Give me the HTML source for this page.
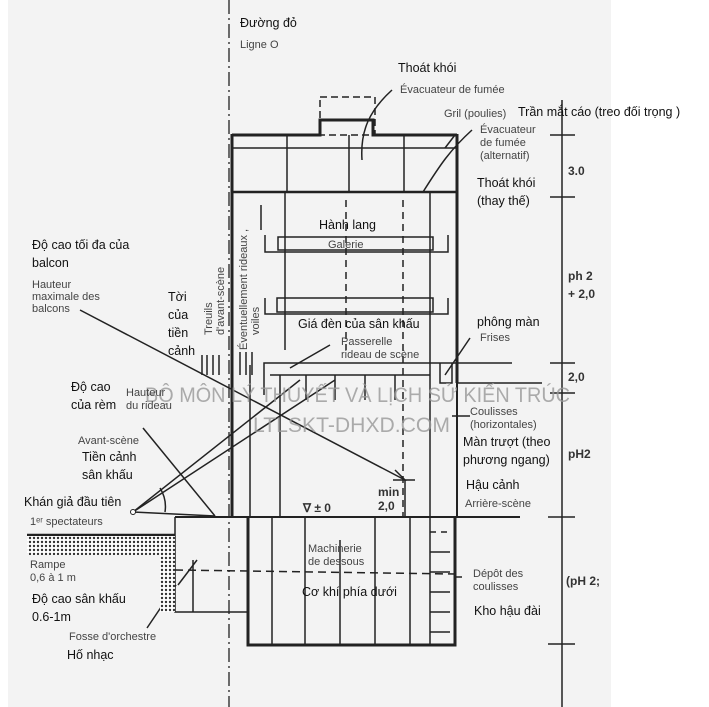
<!DOCTYPE html>
<html><head><meta charset="utf-8"><style>
html,body{margin:0;padding:0;background:#fff}
svg{display:block}
.v{font-family:"Liberation Sans",sans-serif;font-size:12.5px;fill:#111}
.f{font-family:"Liberation Sans",sans-serif;font-size:11px;fill:#444}
.d{font-family:"Liberation Sans",sans-serif;font-size:12px;fill:#333;font-weight:bold}
</style></head><body>
<svg width="709" height="707" viewBox="0 0 709 707" xmlns="http://www.w3.org/2000/svg">
<rect x="8" y="0" width="603" height="707" fill="#f3f3f3"/>
<g stroke="#222" fill="none" stroke-width="1.5">
<line x1="229" y1="0" x2="229" y2="707" stroke-dasharray="14,4,2,4" stroke-width="1.3"/>
<polyline points="232,135 320,135 320,120 373,120 373,135 457,135" stroke-width="3"/>
<rect x="320" y="97" width="55" height="38" stroke-dasharray="7,4"/>
<line x1="232" y1="148" x2="457" y2="148"/>
<line x1="232" y1="192" x2="457" y2="192" stroke-width="2.5"/>
<line x1="287" y1="135" x2="287" y2="192"/><line x1="349" y1="135" x2="349" y2="192"/><line x1="404" y1="135" x2="404" y2="192"/>
<line x1="232" y1="134" x2="232" y2="517" stroke-width="3"/>
<line x1="457" y1="134" x2="457" y2="383" stroke-width="3"/>
<line x1="285" y1="192" x2="285" y2="350"/>
<line x1="430" y1="192" x2="430" y2="517"/>
<line x1="261" y1="205" x2="261" y2="230"/>
<line x1="346" y1="200" x2="346" y2="350" stroke-dasharray="7,5"/>
<line x1="403" y1="200" x2="403" y2="517" stroke-dasharray="7,5"/>
<rect x="278" y="237" width="155" height="13"/>
<polyline points="265,235 265,252 448,252 448,235"/>
<rect x="277" y="298" width="156" height="14"/>
<polyline points="265,298 265,314 448,314 448,298"/>
<polyline points="264,395 264,363 512,363"/>
<polyline points="440,363 440,383 452,383 452,363"/>
<line x1="457" y1="363" x2="457" y2="517" stroke-width="2"/>
<line x1="270" y1="375" x2="430" y2="375"/>
<line x1="250" y1="365" x2="250" y2="517"/><line x1="280" y1="375" x2="280" y2="517"/>
<line x1="306" y1="375" x2="306" y2="400"/><line x1="335" y1="375" x2="335" y2="400"/><line x1="365" y1="375" x2="365" y2="400"/><line x1="395" y1="375" x2="395" y2="400"/>
<line x1="457" y1="383" x2="542" y2="383"/>
<line x1="175" y1="517" x2="520" y2="517" stroke-width="2"/>
<polyline points="248,517 248,645 455,645 455,517" stroke-width="3"/>
<line x1="272" y1="517" x2="272" y2="645"/><line x1="305" y1="517" x2="305" y2="645"/><line x1="340" y1="540" x2="340" y2="645"/><line x1="375" y1="517" x2="375" y2="645"/><line x1="410" y1="517" x2="410" y2="645"/><line x1="430" y1="517" x2="430" y2="645"/>
<line x1="175" y1="570" x2="455" y2="574" stroke-dasharray="8,5"/>
<line x1="430" y1="532" x2="450" y2="532" stroke-dasharray="6,5"/>
<line x1="430" y1="552" x2="450" y2="552"/><line x1="430" y1="572" x2="450" y2="572"/><line x1="430" y1="592" x2="450" y2="592"/><line x1="430" y1="612" x2="450" y2="612"/><line x1="430" y1="632" x2="450" y2="632"/>
<polyline points="175,517 175,612 248,612"/>
<line x1="193" y1="560" x2="193" y2="612"/>
<line x1="178" y1="585" x2="197" y2="560"/>
<line x1="147" y1="628" x2="176" y2="585"/>
<line x1="27" y1="535" x2="175" y2="535" stroke-width="2.5"/>
<line x1="133" y1="512" x2="300" y2="380"/>
<line x1="133" y1="512" x2="335" y2="380"/>
<line x1="133" y1="512" x2="215" y2="516"/>
<line x1="143" y1="428" x2="215" y2="516"/>
<path d="M160,488 A35,35 0 0 1 165,512"/>
<line x1="80" y1="310" x2="405" y2="480"/>
<polyline points="395,470 405,480 393,480"/>
<line x1="405" y1="480" x2="415" y2="480"/>
<line x1="405" y1="480" x2="405" y2="517"/>
<line x1="202" y1="355" x2="202" y2="375"/><line x1="207" y1="355" x2="207" y2="375"/><line x1="213" y1="355" x2="213" y2="375"/><line x1="219" y1="355" x2="219" y2="375"/>
<line x1="240" y1="352" x2="240" y2="375"/><line x1="246" y1="352" x2="246" y2="375"/><line x1="252" y1="352" x2="252" y2="375"/>
<path d="M392,90 C370,110 360,130 362,160"/>
<path d="M472,130 C450,150 440,165 423,192"/>
<line x1="455" y1="135" x2="445" y2="148"/>
<line x1="290" y1="368" x2="330" y2="345"/>
<line x1="445" y1="375" x2="470" y2="338"/>
<line x1="452" y1="416" x2="470" y2="416"/>
<line x1="562" y1="100" x2="562" y2="707"/>
<line x1="550" y1="135" x2="575" y2="135"/><line x1="550" y1="197" x2="575" y2="197"/><line x1="550" y1="363" x2="575" y2="363"/><line x1="550" y1="393" x2="575" y2="393"/><line x1="548" y1="517" x2="575" y2="517"/><line x1="548" y1="644" x2="575" y2="644"/>
<line x1="457" y1="517" x2="520" y2="517"/>
<line x1="455" y1="577" x2="462" y2="577"/>
</g>
<circle cx="133" cy="512" r="2.5" fill="#fff" stroke="#222"/>
<defs><pattern id="dots" width="4" height="4" patternUnits="userSpaceOnUse"><rect width="4" height="4" fill="#fff"/><circle cx="2" cy="2" r="1.2" fill="#333"/></pattern></defs>
<rect x="27" y="536" width="148" height="19" fill="url(#dots)"/>
<rect x="160" y="536" width="15" height="76" fill="url(#dots)"/>
<text x="145" y="402" font-family="Liberation Sans,sans-serif" font-size="21" fill="#999" opacity="0.8" textLength="425" lengthAdjust="spacingAndGlyphs">BỘ MÔN LÝ THUYẾT VÀ LỊCH SỬ KIẾN TRÚC</text>
<text x="253" y="432" font-family="Liberation Sans,sans-serif" font-size="21" fill="#999" opacity="0.8" textLength="197" lengthAdjust="spacingAndGlyphs">LTLSKT-DHXD.COM</text>
<text class="v" x="240" y="27">Đường đỏ</text>
<text class="f" x="240" y="48">Ligne O</text>
<text class="v" x="398" y="72">Thoát khói</text>
<text class="f" x="400" y="93">Évacuateur de fumée</text>
<text class="v" x="518" y="116">Trần mắt cáo (treo đối trọng )</text>
<text class="f" x="444" y="117">Gril (poulies)</text>
<text class="f" x="480" y="133">Évacuateur</text>
<text class="f" x="480" y="146">de fumée</text>
<text class="f" x="480" y="159">(alternatif)</text>
<text class="v" x="477" y="187">Thoát khói</text>
<text class="v" x="477" y="205">(thay thế)</text>
<text class="d" x="568" y="175">3.0</text>
<text class="v" x="319" y="229">Hành lang</text>
<text class="f" x="328" y="248">Galerie</text>
<text class="v" x="32" y="249">Độ cao tối đa của</text>
<text class="v" x="32" y="267">balcon</text>
<text class="f" x="32" y="288">Hauteur</text>
<text class="f" x="32" y="300">maximale des</text>
<text class="f" x="32" y="312">balcons</text>
<text class="v" x="168" y="301">Tời</text>
<text class="v" x="168" y="319">của</text>
<text class="v" x="168" y="337">tiền</text>
<text class="v" x="168" y="355">cảnh</text>
<text class="f" transform="translate(212,335) rotate(-90)">Treuils</text>
<text class="f" transform="translate(224,335) rotate(-90)">d'avant-scène</text>
<text class="f" transform="translate(247,350) rotate(-90)">Éventuellement rideaux ,</text>
<text class="f" transform="translate(259,335) rotate(-90)">voiles</text>
<text class="d" x="568" y="280">ph 2</text>
<text class="d" x="568" y="298">+ 2,0</text>
<text class="v" x="298" y="328">Giá đèn của sân khấu</text>
<text class="f" x="341" y="345">Passerelle</text>
<text class="f" x="341" y="358">rideau de scène</text>
<text class="v" x="477" y="326">phông màn</text>
<text class="f" x="480" y="341">Frises</text>
<text class="d" x="568" y="381">2,0</text>
<text class="v" x="71" y="391">Độ cao</text>
<text class="v" x="71" y="409">của rèm</text>
<text class="f" x="126" y="396">Hauteur</text>
<text class="f" x="126" y="409">du rideau</text>
<text class="f" x="470" y="415">Coulisses</text>
<text class="f" x="470" y="428">(horizontales)</text>
<text class="v" x="463" y="446">Màn trượt (theo</text>
<text class="v" x="463" y="464">phương ngang)</text>
<text class="d" x="568" y="458">pH2</text>
<text class="f" x="78" y="444">Avant-scène</text>
<text class="v" x="82" y="461">Tiền cảnh</text>
<text class="v" x="82" y="479">sân khấu</text>
<text class="v" x="24" y="506">Khán giả đầu tiên</text>
<text class="v" x="466" y="489">Hậu cảnh</text>
<text class="f" x="465" y="507">Arrière-scène</text>
<text class="d" x="303" y="512">∇ ± 0</text>
<text class="d" x="378" y="496">min</text>
<text class="d" x="378" y="510">2,0</text>
<text class="f" x="30" y="525">1ᵉʳ spectateurs</text>
<text class="f" x="308" y="552">Machinerie</text>
<text class="f" x="308" y="565">de dessous</text>
<text class="f" x="473" y="577">Dépôt des</text>
<text class="f" x="473" y="590">coulisses</text>
<text class="d" x="566" y="585">(pH 2;</text>
<text class="f" x="30" y="568">Rampe</text>
<text class="f" x="30" y="581">0,6 à 1 m</text>
<text class="v" x="302" y="596">Cơ khí phía dưới</text>
<text class="v" x="32" y="603">Độ cao sân khấu</text>
<text class="v" x="32" y="621">0.6-1m</text>
<text class="v" x="474" y="615">Kho hậu đài</text>
<text class="f" x="69" y="640">Fosse d'orchestre</text>
<text class="v" x="67" y="659">Hố nhạc</text>
</svg>
</body></html>
